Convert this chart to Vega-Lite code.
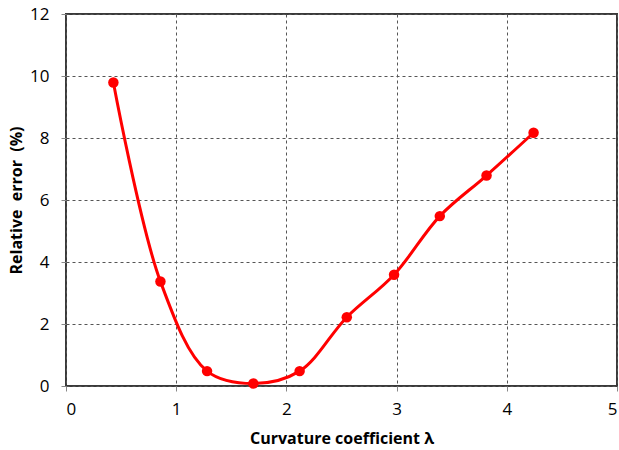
{
  "$schema": "https://vega.github.io/schema/vega-lite/v6.json",
  "width": 551,
  "height": 372,
  "autosize": {"type": "none"},
  "padding": {"left": 66, "top": 14, "right": 2, "bottom": 64},
  "background": "white",
  "config": {
    "view": {"stroke": "#3a3a3a", "strokeWidth": 2},
    "axis": {
      "labelFont": "Open Sans",
      "titleFont": "Open Sans",
      "labelFontSize": 17,
      "labelColor": "#000000",
      "titleColor": "#000000",
      "titleFontSize": 16,
      "titleFontWeight": "bold",
      "domain": false,
      "grid": true,
      "gridColor": "#555555",
      "gridDash": [3, 3],
      "gridWidth": 1,
      "gridOpacity": 1,
      "tickColor": "#888888",
      "tickSize": 5,
      "tickWidth": 1
    }
  },
  "data": {
    "values": [
      {"lambda": 0.43, "err": 9.79},
      {"lambda": 0.857, "err": 3.37},
      {"lambda": 1.28, "err": 0.48},
      {"lambda": 1.70, "err": 0.08},
      {"lambda": 2.12, "err": 0.48},
      {"lambda": 2.548, "err": 2.22},
      {"lambda": 2.977, "err": 3.59},
      {"lambda": 3.392, "err": 5.48},
      {"lambda": 3.816, "err": 6.79},
      {"lambda": 4.243, "err": 8.17}
    ]
  },
  "encoding": {
    "x": {
      "field": "lambda",
      "type": "quantitative",
      "scale": {"domain": [0, 5], "nice": false, "zero": true},
      "axis": {"values": [0, 1, 2, 3, 4, 5], "title": "Curvature coefficient λ", "labelPadding": 10, "titlePadding": 13}
    },
    "y": {
      "field": "err",
      "type": "quantitative",
      "scale": {"domain": [0, 12], "nice": false},
      "axis": {"values": [0, 2, 4, 6, 8, 10, 12], "title": "Relative\u00a0 error\u00a0 (%)", "labelPadding": 12, "titlePadding": 5}
    }
  },
  "layer": [
    {
      "mark": {"type": "line", "color": "#ff0000", "strokeWidth": 3, "interpolate": "catmull-rom"}
    },
    {
      "mark": {"type": "point", "filled": true, "color": "#ff0000", "size": 110, "opacity": 1}
    }
  ]
}
